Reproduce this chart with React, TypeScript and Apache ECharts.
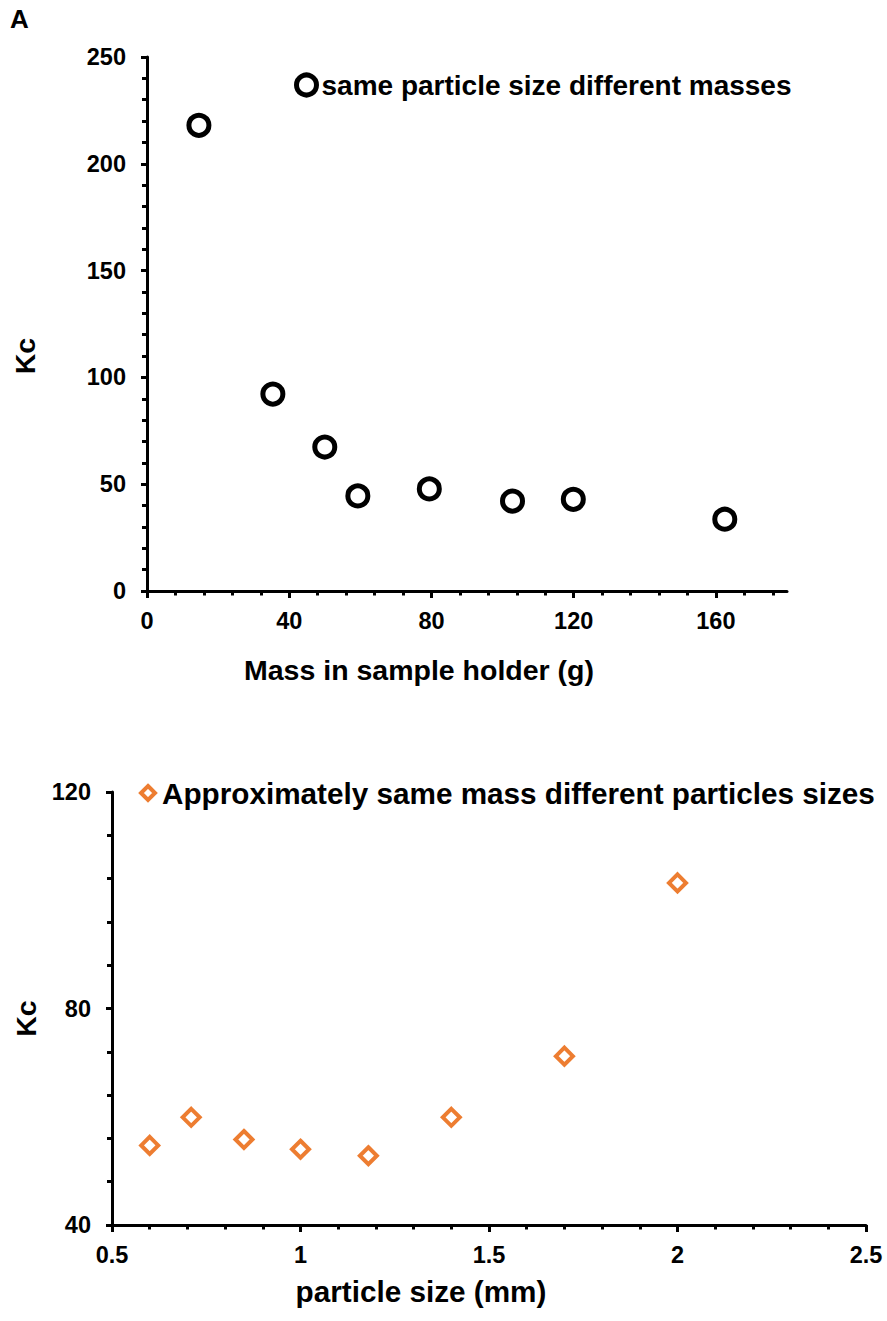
import React, { useEffect, useRef } from "react";
import * as echarts from "echarts";

// Panel A: same particle size, different masses
const massValues = [14.6, 35.4, 50.0, 59.3, 79.4, 102.8, 119.9, 162.5];
const kcMass = [218, 92.2, 67.4, 44.5, 47.8, 42.1, 42.9, 33.6];
const massTicks = [0, 40, 80, 120, 160];
const massMinorTicks = [8, 16, 24, 32, 48, 56, 64, 72, 88, 96, 104, 112, 128, 136, 144, 152, 168, 176];

// Panel B: approximately same mass, different particle sizes
const particleSizes = [0.6, 0.71, 0.85, 1.0, 1.18, 1.4, 1.7, 2.0];
const kcSize = [54.7, 59.9, 55.8, 54.0, 52.8, 59.9, 71.2, 103.2];

const seriesNameA = "same particle size different masses";
const seriesNameB = "Approximately same mass different particles sizes";

const FONT = "'Liberation Sans', Arial, Helvetica, sans-serif";
const ORANGE = "#ED7D31";

export default function App() {
  const ref = useRef<HTMLDivElement>(null);

  useEffect(() => {
    if (!ref.current) return;
    const chart = echarts.init(ref.current, null, { renderer: "svg" });

    const axisLine = { show: true, lineStyle: { color: "#000", width: 3 } };
    const labelStyle = { color: "#000", fontFamily: FONT, fontWeight: "bold" as const, fontSize: 23.5 };
    const nameStyle = { color: "#000", fontFamily: FONT, fontWeight: "bold" as const, fontSize: 28.5 };

    const option: any = {
      animation: false,
      backgroundColor: "#fff",
      textStyle: { fontFamily: FONT },
      graphic: [
        {
          type: "text",
          left: 10,
          top: 6,
          style: { text: "A", fontSize: 26, fontWeight: "bold", fontFamily: FONT, fill: "#000" },
        },
      ],
      legend: [
        {
          data: [seriesNameA],
          left: 294,
          top: 71,
          padding: 0,
          itemWidth: 20,
          itemHeight: 20,
          itemStyle: { borderWidth: 5, borderColor: "#000", color: "#fff" },
          textStyle: { ...nameStyle, fontSize: 28 },
        },
        {
          data: [seriesNameB],
          left: 139,
          top: 778,
          padding: 0,
          itemWidth: 14,
          itemHeight: 14,
          itemStyle: { borderWidth: 4, borderColor: ORANGE, color: "#fff" },
          textStyle: { ...nameStyle, fontSize: 29.7, padding: [0, 0, 0, 2] },
        },
      ],
      grid: [
        { left: 147, top: 57, width: 640, height: 534 },
        { left: 112, top: 792, width: 754, height: 433 },
      ],
      xAxis: [
        {
          type: "value",
          gridIndex: 0,
          position: "bottom",
          min: 0,
          max: 180,
          interval: 40,
          axisLine,
          splitLine: { show: false },
          axisTick: { show: true, customValues: massTicks, length: 7, lineStyle: { color: "#000", width: 3 } },
          axisLabel: { ...labelStyle, customValues: massTicks, margin: 18 },
          name: "Mass in sample holder (g)",
          nameLocation: "middle",
          nameGap: 64,
          nameTextStyle: { ...nameStyle, padding: [0, 96, 0, 0] },
        },
        {
          type: "value",
          gridIndex: 0,
          position: "bottom",
          offset: 0,
          min: 0,
          max: 180,
          axisLine: { show: false },
          splitLine: { show: false },
          axisLabel: { show: false },
          axisTick: { show: true, customValues: massMinorTicks, length: 4.5, lineStyle: { color: "#000", width: 3 } },
        },
        {
          type: "value",
          gridIndex: 1,
          position: "bottom",
          min: 0.5,
          max: 2.5,
          interval: 0.5,
          axisLine,
          splitLine: { show: false },
          axisTick: { show: true, length: 7, lineStyle: { color: "#000", width: 3 } },
          minorTick: { show: true, splitNumber: 5, length: 4.5, lineStyle: { color: "#000", width: 3 } },
          axisLabel: { ...labelStyle, margin: 18 },
          name: "particle size (mm)",
          nameLocation: "middle",
          nameGap: 51,
          nameTextStyle: { ...nameStyle, fontSize: 29.7, padding: [0, 136, 0, 0] },
        },
      ],
      yAxis: [
        {
          type: "value",
          gridIndex: 0,
          min: 0,
          max: 250,
          interval: 50,
          axisLine,
          splitLine: { show: false },
          axisTick: { show: true, length: 6, lineStyle: { color: "#000", width: 3 } },
          minorTick: { show: true, splitNumber: 5, length: 5, lineStyle: { color: "#000", width: 3 } },
          axisLabel: { ...labelStyle, margin: 21 },
          name: "Kc",
          nameLocation: "middle",
          nameGap: 108,
          nameTextStyle: { ...nameStyle, padding: [0, 64, 0, 0] },
        },
        {
          type: "value",
          gridIndex: 1,
          min: 40,
          max: 120,
          interval: 40,
          axisLine,
          splitLine: { show: false },
          axisTick: { show: true, length: 6, lineStyle: { color: "#000", width: 3 } },
          minorTick: { show: true, splitNumber: 5, length: 5, lineStyle: { color: "#000", width: 3 } },
          axisLabel: { ...labelStyle, margin: 21 },
          name: "Kc",
          nameLocation: "middle",
          nameGap: 45,
          nameTextStyle: { ...nameStyle, padding: [0, 20, 0, 0] },
        },
      ],
      series: [
        {
          name: seriesNameA,
          type: "scatter",
          xAxisIndex: 0,
          yAxisIndex: 0,
          symbol: "circle",
          symbolSize: 20,
          itemStyle: { color: "#fff", borderColor: "#000", borderWidth: 5, opacity: 1 },
          data: massValues.map((m, i) => [m, kcMass[i]]),
        },
        {
          name: seriesNameB,
          type: "scatter",
          xAxisIndex: 2,
          yAxisIndex: 1,
          symbol: "diamond",
          symbolSize: 17,
          itemStyle: { color: "#fff", borderColor: ORANGE, borderWidth: 4, opacity: 1 },
          data: particleSizes.map((s, i) => [s, kcSize[i]]),
        },
      ],
    };

    chart.setOption(option);
    return () => chart.dispose();
  }, []);

  return (
    <div
      ref={ref}
      style={{ position: "absolute", left: 0, top: 0, width: 887, height: 1321, background: "#fff" }}
    />
  );
}
